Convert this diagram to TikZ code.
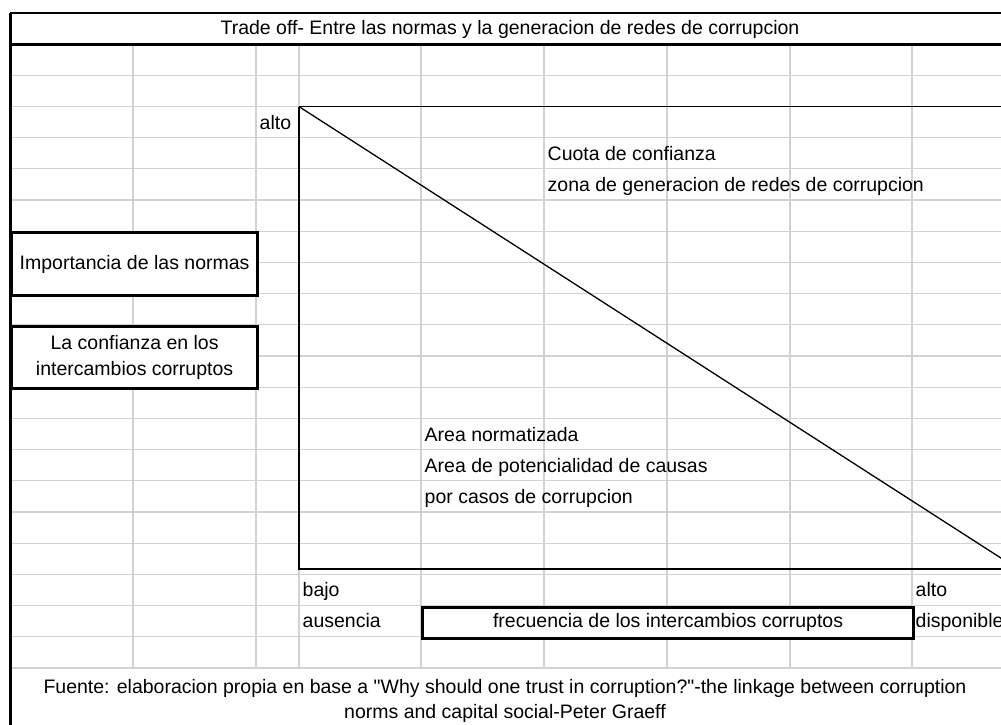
\documentclass[tikz,border=0pt]{standalone}
\usepackage{fontspec}
\setmainfont{Liberation Sans}[Ligatures=TeXOff]
\definecolor{gridgray}{RGB}{210,210,210}
\begin{document}
\begin{tikzpicture}[x=1pt,y=-1pt,
  gridline/.style={draw=gridgray,line width=1.3pt},
  heavybox/.style={draw=black,line width=3.2pt,fill=white,inner sep=0pt,anchor=north west},
  axisline/.style={draw=black,line width=1.3pt},
  txt/.style={inner sep=0pt,font=\fontsize{19.5}{25.3}\selectfont},
  cell/.style={txt,anchor=base west}]
\useasboundingbox (0,0) rectangle (1001,725);
\clip (0,0) rectangle (1001,725);
\fill[white] (0,0) rectangle (1001,725);
% spreadsheet grid
\foreach \k in {1,...,20} { \draw[gridline] (10,{44+31.2*\k}) -- (1001,{44+31.2*\k}); }
\foreach \c in {133,256,299,421,544,667,790,912} { \draw[gridline] (\c,44) -- (\c,668); }
% title row
\fill[white] (10,13) rectangle (1001,44);
\draw[line width=2pt] (10,13) -- (1001,13);
\draw[line width=3pt] (10,44.3) -- (1001,44.3);
\node[txt,anchor=base] (title) at (510,35) {Trade off- Entre las normas y la generacion de redes de corrupcion};
% footer area
\fill[white] (10,668.8) rectangle (1001,725);
\draw[line width=3pt] (10,13) -- (10,725);
% boxes
\node[heavybox,txt,minimum width=246pt,minimum height=62.4pt] (imp) at (10,231.2) {Importancia de las normas};
\node[heavybox,txt,align=center,minimum width=246pt,minimum height=62.4pt] (conf) at (10,324.8) {La confianza en los\\intercambios corruptos};
\node[heavybox,txt,minimum width=491pt,minimum height=31.2pt] (frec) at (421,605.6) {frecuencia de los intercambios corruptos};
% chart
\coordinate (T) at (299,106.6);
\coordinate (O) at (299,569);
\coordinate (TR) at (1040,106.6);
\coordinate (BR) at (1040,569);
\coordinate (D) at (1018,569);
\draw[axisline] (T) -- (O) -- (BR);
\draw[axisline] (T) -- (TR);
\draw[axisline] (T) -- (D);
% cell texts
\node[cell] (altoy) at (259.5,129.5) {alto};
\node[cell] (cuota) at (547.5,160) {Cuota de confianza};
\node[cell] (zona) at (547.5,191) {zona de generacion de redes de corrupcion};
\node[cell] (area1) at (424.5,441) {Area normatizada};
\node[cell] (area2) at (424.5,472.2) {Area de potencialidad de causas};
\node[cell] (area3) at (424.5,503.4) {por casos de corrupcion};
\node[cell] (bajo) at (302.5,596.6) {bajo};
\node[cell] (altox) at (915.5,596.6) {alto};
\node[cell] (aus) at (302.5,627.8) {ausencia};
\node[cell] (disp) at (915.5,627.8) {disponible};
% source
\node[txt,align=center] (src) at (505,701) {Fuente: elaboracion propia en base a "Why should one trust in corruption?"-the linkage between corruption\\norms and capital social-Peter Graeff};
\end{tikzpicture}
\end{document}
